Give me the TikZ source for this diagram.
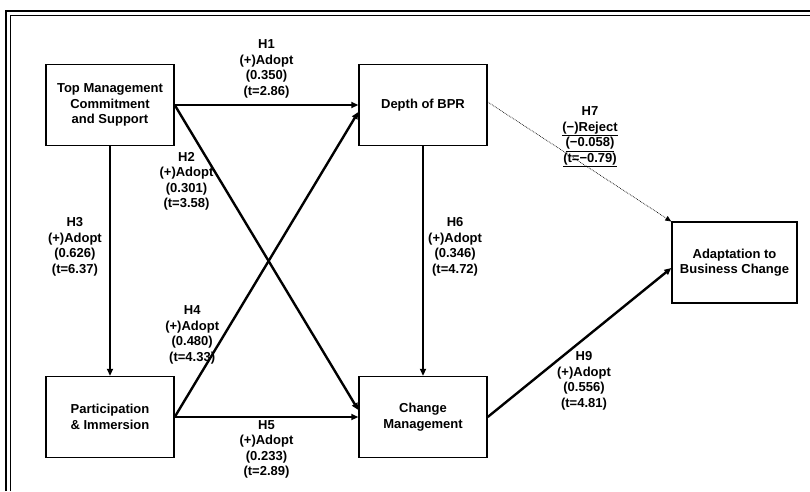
\documentclass[tikz,border=0pt]{standalone}
\usepackage{fontspec}
\setmainfont{Liberation Sans}
\usetikzlibrary{arrows.meta}

\begin{document}
\begin{tikzpicture}[x=1pt, y=-1pt, node distance={313pt}, thick,
  main/.style = {draw, line width=1.4pt, minimum width=128pt, minimum height=81pt, align=center, font=\bfseries\fontsize{13}{15.5}\selectfont},
  lbl/.style = {align=center, inner sep=1pt, font=\bfseries\fontsize{13}{15.5}\selectfont},
  arr/.style = {line width=2.4pt, -{Triangle[length=7pt, width=6pt]}},
  weak/.style = {line width=0.7pt, densely dotted, -{Triangle[length=6pt, width=5pt]}}]
  \useasboundingbox (0,0) rectangle (810,491);

  % frame
  \draw[line width=1.2pt] (6,491) -- (6,11) -- (810,11);
  \draw[line width=0.8pt] (10,491) -- (10,15) -- (810,15);

  \node[main] (tm) at (110,105) {Top Management\\Commitment\\and Support};
  \node[main] (bpr) [right of=tm] {Depth of BPR};
  \node[main] (pi) [below of=tm, node distance=312pt] {Participation\\\& Immersion};
  \node[main] (cm) [right of=pi] {Change\\Management};
  \node[main, minimum width=125pt] (abc) at (734.5,262.5) {Adaptation to\\Business Change};

  \draw[arr] (tm) -- node[lbl, above=5pt] {H1\\(+)Adopt\\(0.350)\\(t=2.86)} (bpr);
  \draw[arr] (tm.east) -- node[lbl, pos=0.25, left=5pt] {H2\\(+)Adopt\\(0.301)\\(t=3.58)} ([yshift=7pt]cm.west);
  \draw[arr] (tm) -- node[lbl, left=6pt, yshift=14pt] {H3\\(+)Adopt\\(0.626)\\(t=6.37)} (pi);
  \draw[arr] (pi.east) -- node[lbl, pos=0.27, left=3pt] {H4\\(+)Adopt\\(0.480)\\(t=4.33)} ([yshift=-7pt]bpr.west);
  \draw[arr] (pi) -- node[lbl, below=1pt] {H5\\(+)Adopt\\(0.233)\\(t=2.89)} (cm);
  \draw[arr] (bpr) -- node[lbl, right=3pt, yshift=14pt] {H6\\(+)Adopt\\(0.346)\\(t=4.72)} (cm);
  \draw[weak] ([yshift=3pt]bpr.east) -- (abc);
  \draw[arr] (cm.east) -- ([yshift=-5.5pt]abc.west);

  % labels off the lines
  \node[lbl] (h7) at (590,137) {H7\\\underline{(−)Reject}\\\underline{(−0.058)}\\\underline{(t=−0.79)}};
  \node[lbl] (h9) at (584,381) {H9\\(+)Adopt\\(0.556)\\(t=4.81)};
\end{tikzpicture}
\end{document}
